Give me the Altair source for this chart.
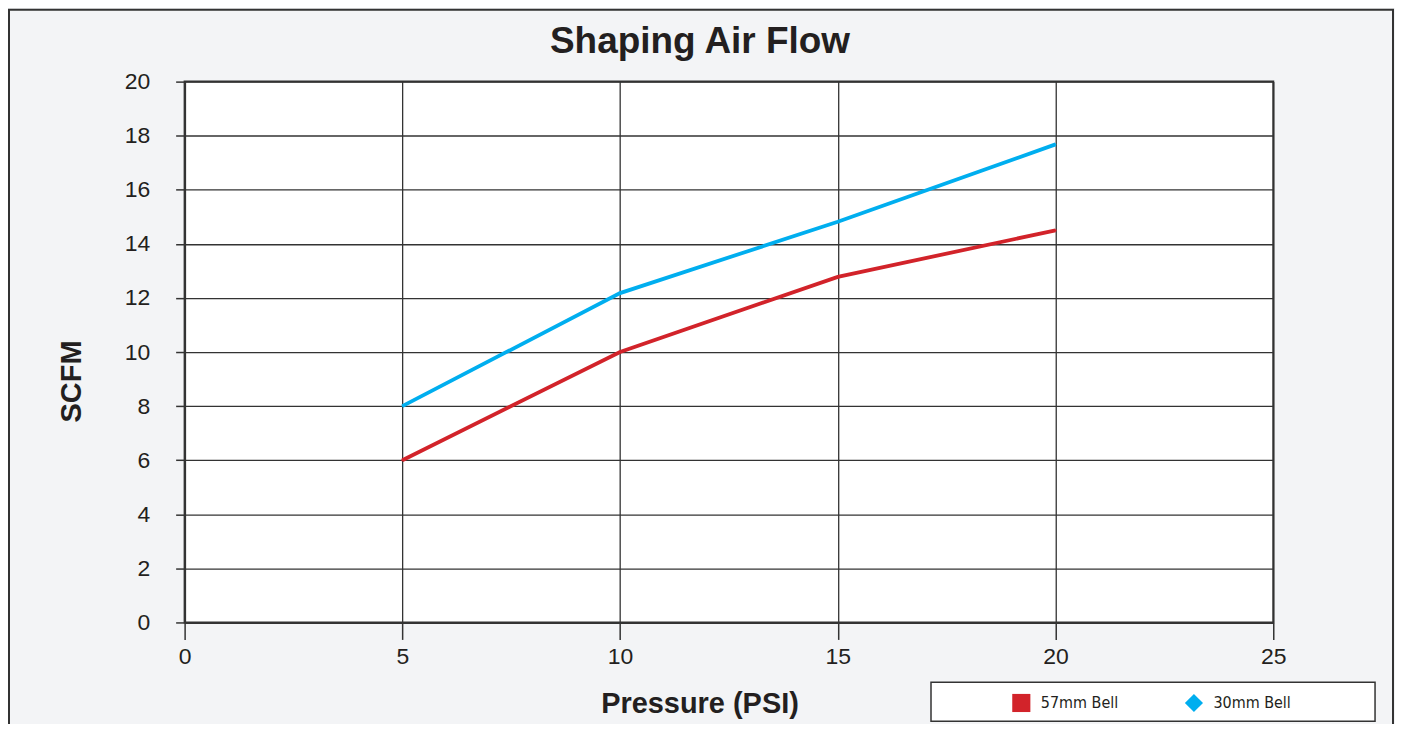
import altair as alt
import pandas as pd

pressure = [5, 10, 15, 20]
bell_57 = [6.0, 10.0, 12.78, 14.5]
bell_30 = [8.0, 12.18, 14.82, 17.68]
series_names = ["57mm Bell", "30mm Bell"]
series_colors = ["#d2232a", "#00aeef"]
series_shapes = ["square", "diamond"]
x_ticks = [0, 5, 10, 15, 20, 25]
y_ticks = [0, 2, 4, 6, 8, 10, 12, 14, 16, 18, 20]

rows = []
for name, vals in zip(series_names, [bell_57, bell_30]):
    for p, v in zip(pressure, vals):
        rows.append({"Pressure": p, "SCFM": v, "Series": name})
df = pd.DataFrame(rows)
one = pd.DataFrame({"k": [0]})

W, H = 1091, 542
FONT = "Liberation Sans"
NARROW = "Liberation Sans Narrow, DejaVu Sans Condensed, Roboto Condensed, Liberation Sans"
INK = "#231f20"

x_enc = alt.X("Pressure:Q",
              scale=alt.Scale(domain=[0, 25], nice=False),
              axis=alt.Axis(values=x_ticks, title="Pressure (PSI)",
                            tickSize=17, labelPadding=6, labelFlush=False,
                            titleX=516, titleY=81, titleBaseline="middle",
                            titleAlign="center"))
y_enc = alt.Y("SCFM:Q",
              scale=alt.Scale(domain=[0, 20], nice=False),
              axis=alt.Axis(values=y_ticks, title="SCFM",
                            tickSize=9, labelPadding=26, labelFlush=False,
                            titleX=-113, titleY=300, titleAngle=270,
                            titleBaseline="middle", titleAlign="center"))

frame = alt.Chart(one).mark_rect(fill="transparent", stroke="#333333", strokeWidth=2).encode(
    x=alt.value(-176), x2=alt.value(1211), y=alt.value(-72), y2=alt.value(760)
)
legend_box = alt.Chart(one).mark_rect(fill="white", stroke="#333333", strokeWidth=1.5).encode(
    x=alt.value(748), x2=alt.value(1193), y=alt.value(602), y2=alt.value(641)
)

leg = alt.Legend(title=None, orient="none", legendX=829, legendY=613,
                 direction="horizontal", symbolSize=330,
                 symbolStrokeWidth=0, labelFont=NARROW,
                 labelFontSize=16, labelColor=INK, labelOffset=10,
                 columnPadding=66, padding=0)

points = alt.Chart(df).mark_point(filled=True, size=4, opacity=1).encode(
    x=x_enc, y=y_enc,
    color=alt.Color("Series:N",
                    scale=alt.Scale(domain=series_names, range=series_colors),
                    legend=leg),
    shape=alt.Shape("Series:N",
                    scale=alt.Scale(domain=series_names, range=series_shapes),
                    legend=leg),
)

lines = alt.Chart(df).mark_line(strokeWidth=3.8, strokeCap="butt").encode(
    x=alt.X("Pressure:Q"), y=alt.Y("SCFM:Q"),
    stroke=alt.Stroke("Series:N",
                      scale=alt.Scale(domain=series_names, range=series_colors),
                      legend=None),
)

chart = alt.layer(frame, legend_box, points, lines).resolve_scale(
    stroke="independent"
).properties(
    width=W, height=H,
    autosize=alt.AutoSizeParams(type="none"),
    padding={"left": 177, "top": 73, "right": 122, "bottom": 101},
    background="#f3f4f6",
    title=alt.Title("Shaping Air Flow", fontSize=37, font=FONT, fontWeight="bold",
                    color=INK, anchor="middle", dx=-29, offset=0, dy=81,
                    baseline="alphabetic"),
).configure_view(
    fill="white", stroke="#333333", strokeWidth=2
).configure_axis(
    grid=True, gridColor="#333333", gridWidth=1.3, gridOpacity=1,
    domainColor="#333333", domainWidth=2, tickColor="#333333", tickWidth=1.5,
    labelFont=FONT, labelFontSize=23, labelColor=INK,
    titleFont=FONT, titleFontSize=29, titleFontWeight="bold", titleColor=INK,
)

chart.save("out.html", embed_options={"renderer": "svg", "actions": False})
